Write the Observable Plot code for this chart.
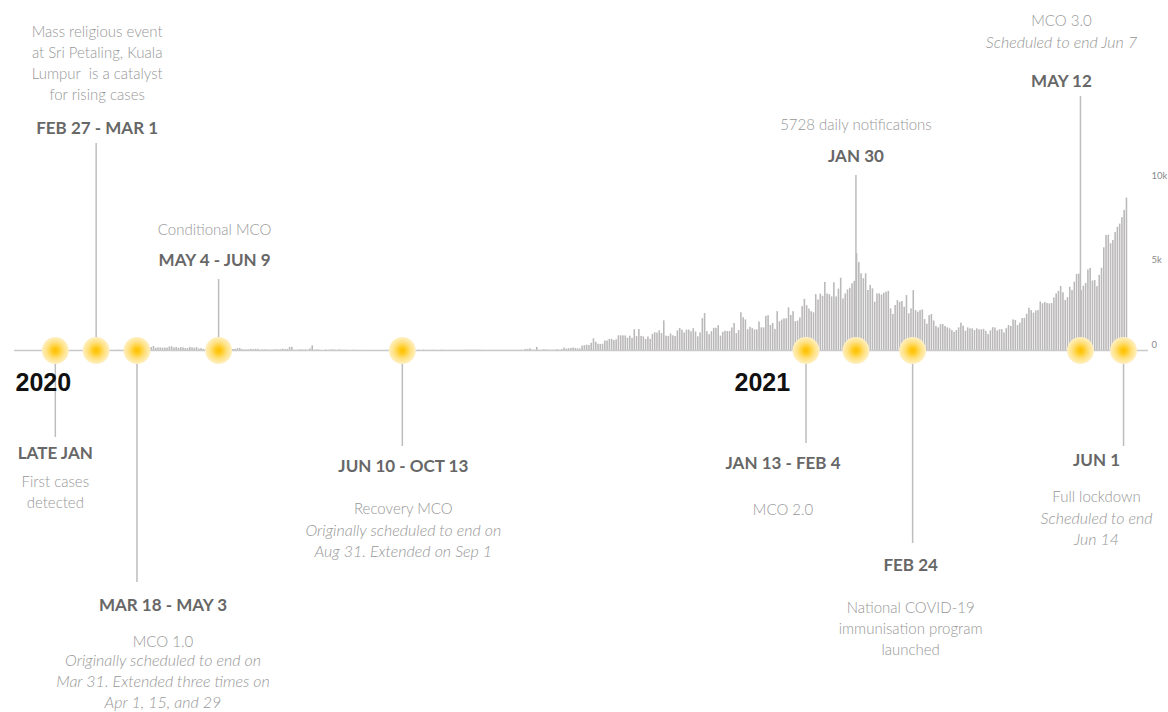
<!DOCTYPE html>
<html>
<head>
<meta charset="utf-8">
<script src="https://cdn.jsdelivr.net/npm/d3@7"></script>
<script src="https://cdn.jsdelivr.net/npm/@observablehq/plot@0.6"></script>
<style>
  body { margin: 0; background: #fff; }
  svg { display: block; }
</style>
</head>
<body>
<div id="chart"></div>
<script>
// ================= DATA =================
const firstDay = "2020-01-25";   // first day of the daily series / time axis
const lastDay  = "2021-06-08";   // end of the time axis

// Daily new COVID-19 notifications, Malaysia
const cases2020Jan = [3,1,0,0,3,0,1]; // from Jan 25
const cases2020Feb = [0,0,0,2,2,2,1,1,3,0, 0,0,1,0,3,0,0,0,0,0, 0,0,0,0,0,0,1,2,0];
const cases2020Mar = [7,0,7,14,5,28,10,6,18,12, 20,9,39,41,190,125,120,117,110,130, 153,123,212,106,172,235,130,159,150,140, 142];
const cases2020Apr = [142,208,217,150,179,131,170,156,109,118, 184,153,134,170,85,110,69,54,84,36, 57,50,71,88,51,38,40,31,94,57];
const cases2020May = [69,105,122,55,30,45,39,68,54,67, 70,16,37,40,36,17,22,47,37,31, 50,78,48,60,172,187,15,10,30,38, 20];
const cases2020Jun = [38,20,93,277,19,37,19,7,2,31, 5,33,41,22,7,41,8,10,15,6, 3,14,6,5,4,1,2,4,3,3];
const cases2020Jul = [1,1,1,3,3,2,8,3,4,5, 8,10,10,8,6,3,9,13,15,7, 17,4,23,9,13,4,15,12,7,7, 24];
const cases2020Aug = [14,8,6,6,9,10,4,6,6,17, 25,13,19,19,14,25,9,17,6,7, 15,6,9,11,10,9,10,2,7,9, 6];
const cases2020Sep = [6,13,7,18,4,64,62,100,18,24, 182,9,17,43,40,19,17,17,20,52, 15,57,147,82,111,115,150,115,101,89];
const cases2020Oct = [260,287,317,293,432,691,489,374,354,374, 563,561,660,660,589,629,869,871,865,862, 732,847,710,1228,823,1240,835,801,649,799, 659];
const cases2020Nov = [957,1054,1032,1168,1009,1755,852,834,972,869, 822,1162,1304,1208,1041,1208,1210,1109,1290,1096, 810,1041,1884,2188,1109,935,1109,1315,1315,1472];
const cases2020Dec = [851,1075,1141,1123,1123,1335,1600,1000,1180,2234, 1937,1810,1229,1371,1295,1220,1220,1684,1340,1340, 2018,2062,1480,1600,1247,2300,1700,1800,1870,1870, 2525];
const cases2021Jan = [2068,2295,1704,1741,1923,2593,3027,2643,2451,2296, 2232,3309,2985,3337,3211,4029,3346,3306,3170,4008, 3170,3631,4275,3048,3346,3585,3680,3950,4094,5728, 5200];
const cases2021Feb = [4540,4250,4540,3550,3850,3650,2860,3350,3350,3288, 3391,3450,3499,2464,2130,2660,2950,2850,2900,2560, 3250,2170,2460,3545,2360,2270,2360,2400];
const cases2021Mar = [1828,1555,2063,2130,1745,1422,1340,1529,1540,1420, 1340,1280,1180,1080,1180,1340,1620,1440,1140,1340, 1280,1280,1180,1280,1220,1220,1253,1134,941,1165, 1349];
const cases2021Apr = [1336,1159,1224,1235,1040,1291,1482,1420,1810,1770, 1480,1620,1889,1899,2148,2500,2360,2210,2341,2360, 2875,2765,2847,2776,2760,2776,3110,3350,3500,3788];
const cases2021May = [3418,2960,3120,3744,3551,4040,4498,4519,3551,3807, 3973,4765,4855,4113,4140,3780,4446,4865,6075,6806, 6823,6320,6509,6976,7289,7478,7857,8290,9020]; // to May 29

const monthsInOrder = [cases2020Jan, cases2020Feb, cases2020Mar, cases2020Apr, cases2020May, cases2020Jun,
  cases2020Jul, cases2020Aug, cases2020Sep, cases2020Oct, cases2020Nov, cases2020Dec,
  cases2021Jan, cases2021Feb, cases2021Mar, cases2021Apr, cases2021May];

// Timeline events (date = where the marker sits on the timeline)
const eventIds     = ["lateJan", "feb27", "mar18", "may4", "jun10", "jan13", "jan30", "feb24", "may12", "jun1"];
const eventDates   = ["2020-02-12", "2020-03-01", "2020-03-19", "2020-04-24", "2020-07-14",
                      "2021-01-08", "2021-01-30", "2021-02-24", "2021-05-09", "2021-05-28"];
const eventTitles  = ["LATE JAN", "FEB 27 - MAR 1", "MAR 18 - MAY 3", "MAY 4 - JUN 9", "JUN 10 - OCT 13",
                      "JAN 13 - FEB 4", "JAN 30", "FEB 24", "MAY 12", "JUN 1"];
const eventNotes   = ["First cases\ndetected",
                      "Mass religious event\nat Sri Petaling, Kuala\nLumpur  is a catalyst\nfor rising cases",
                      "MCO 1.0", "Conditional MCO", "Recovery MCO", "MCO 2.0", "5728 daily notifications",
                      "National COVID-19\nimmunisation program\nlaunched", "MCO 3.0", "Full lockdown"];
const eventItalics = ["", "", "Originally scheduled to end on\nMar 31. Extended three times on\nApr 1, 15, and 29",
                      "", "Originally scheduled to end on\nAug 31. Extended on Sep 1", "", "", "",
                      "Scheduled to end Jun 7", "Scheduled to end\nJun 14"];

const yearLabels = ["2020", "2021"];
const yearDates  = ["2020-01-25", "2021-01-01"];

const yTicks      = [0, 5000, 10000];
const yTickLabels = ["0", "5k", "10k"];

// ================= LAYOUT (pixels; positive = below the timeline) =================
const W = 1168, H = 712;
const M = {left: 14, right: 20, top: 181, bottom: 362};
const yMax = 10000;
const plotH = H - M.bottom - M.top;
const pxToCases = px => -px * yMax / plotH;

const layout = {
  lateJan: {stem: 87,   dx: 0,   title: 103,  note: 140},
  feb27:   {stem: -207, dx: 1,   title: -222, note: -289},
  mar18:   {stem: 232,  dx: 26,  title: 255,  note: 290, italic: 330},
  may4:    {stem: -71,  dx: -4,  title: -90,  note: -122},
  jun10:   {stem: 96,   dx: 1,   title: 116,  note: 157, italic: 189},
  jan13:   {stem: 93,   dx: -23, title: 113,  note: 158},
  jan30:   {stem: -175, dx: 0,   title: -194, note: -227},
  feb24:   {stem: 193,  dx: -2,  title: 215,  note: 277},
  may12:   {stem: -254, dx: -19, title: -269, note: -331, italic: -309},
  jun1:    {stem: 96,   dx: -27, title: 110,  note: 145, italic: 177}
};
const yearLayout = [{anchor: "start", dx: 1}, {anchor: "end", dx: 0}];

// ================= BUILD =================
const t0 = new Date(firstDay);
const daily = monthsInOrder.flat().map((c, i) => ({date: d3.utcDay.offset(t0, i), cases: c}));

const events = eventIds.map((id, i) => ({
  id, date: new Date(eventDates[i]), title: eventTitles[i], note: eventNotes[i], italic: eventItalics[i],
  stemEnd: pxToCases(layout[id].stem)
}));

const FONT = "Lato, 'Open Sans', sans-serif";
const titleColor = "#676767", noteColor = "#979797";
const LINE_PX = 21;

const textMarks = events.flatMap(e => {
  const L = layout[e.id];
  const marks = [
    Plot.text([e], {x: "date", y: 0, text: "title", dx: L.dx, dy: L.title,
      fontSize: 17, fontWeight: 700, fill: titleColor, fontFamily: FONT}),
    Plot.text([e], {x: "date", y: 0, text: "note", dx: L.dx, dy: L.note, lineHeight: LINE_PX / 15,
      fontSize: 15, fontWeight: 300, fill: noteColor, fontFamily: FONT})
  ];
  if (e.italic) marks.push(
    Plot.text([e], {x: "date", y: 0, text: "italic", dx: L.dx, dy: L.italic, lineHeight: LINE_PX / 16,
      fontSize: 16, fontWeight: 300, fontStyle: "italic", fill: noteColor, fontFamily: FONT}));
  return marks;
});

const years = yearLabels.map((label, i) => ({label, date: new Date(yearDates[i]), ...yearLayout[i]}));

const svg = Plot.plot({
  width: W, height: H,
  marginLeft: M.left, marginRight: M.right, marginTop: M.top, marginBottom: M.bottom,
  x: {type: "utc", domain: [new Date(firstDay), new Date(lastDay)], axis: null},
  y: {domain: [0, yMax], axis: null},
  style: {background: "#fff", fontFamily: FONT},
  marks: [
    Plot.rectY(daily, {x1: "date", x2: d => d3.utcDay.offset(d.date, 1), y: "cases",
      fill: "#bab8b8", insetLeft: 0.35, insetRight: 0.35}),
    Plot.ruleY([0], {stroke: "#c9c9c9", strokeWidth: 1.5}),
    Plot.ruleX(events, {x: "date", y1: 0, y2: "stemEnd", stroke: "#bdbdbd", strokeWidth: 1.5}),
    Plot.axisY(yTicks, {anchor: "right", tickSize: 0, tickPadding: 3, dy: -6,
      tickFormat: d => yTickLabels[yTicks.indexOf(d)], fontSize: 9.5, fill: "#8a8a8a", fontFamily: FONT}),
    ...years.map(y => Plot.text([y], {x: "date", y: 0, text: "label", textAnchor: y.anchor, dx: y.dx, dy: 32,
      fontSize: 25, fontWeight: 700, fill: "#111", fontFamily: "'Liberation Sans', Arial, sans-serif"})),
    Plot.dot(events, {x: "date", y: 0, r: 13.5, fill: "url(#glow)", stroke: null}),
    ...textMarks
  ]
});

const defs = d3.select(svg).insert("defs", ":first-child");
const grad = defs.append("radialGradient").attr("id", "glow");
[[0, "#ffc000"], [0.22, "#ffca1c"], [0.6, "#ffe07c"], [1, "#fff0c4"]]
  .forEach(([o, c]) => grad.append("stop").attr("offset", o).attr("stop-color", c));

document.getElementById("chart").append(svg);
</script>
</body>
</html>
